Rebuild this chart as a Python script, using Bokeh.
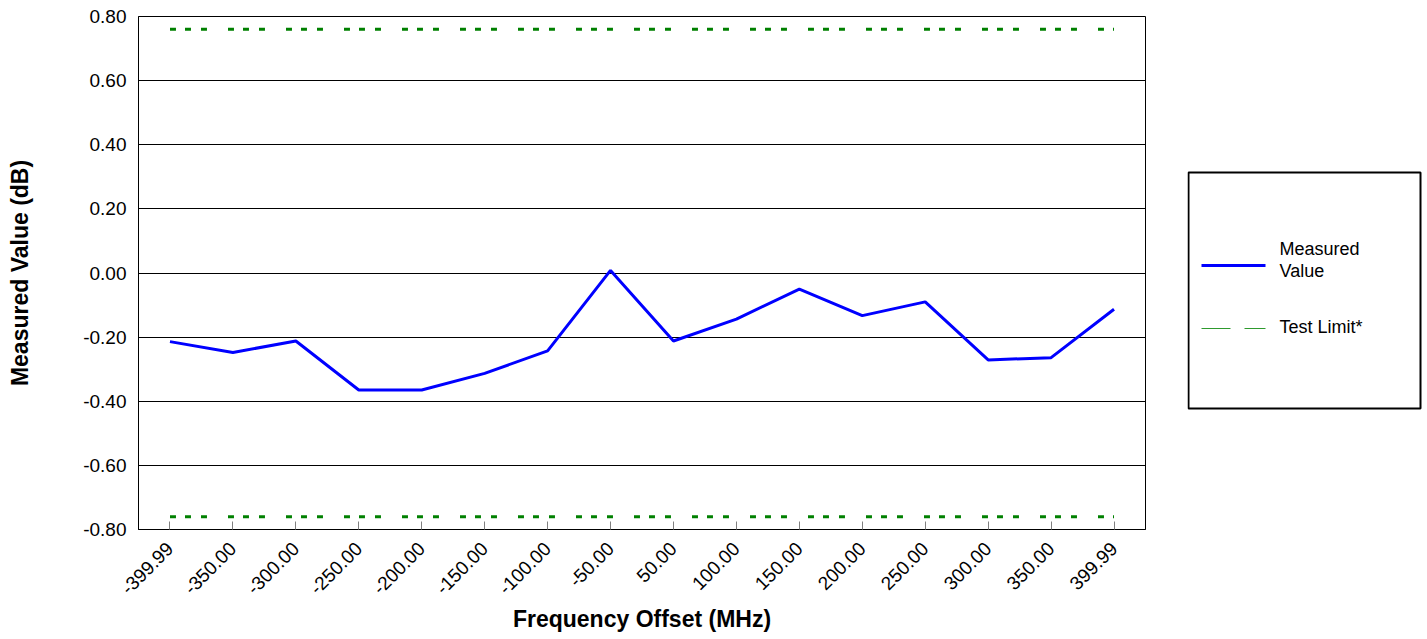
import math
from bokeh.plotting import figure
from bokeh.models import FactorRange, Range1d, FixedTicker, NumeralTickFormatter, ColumnDataSource
from bokeh.layouts import row
from bokeh.embed import file_html
from bokeh.resources import INLINE
from bokeh.core.properties import value

# ---------------- data ----------------
categories = ["-399.99", "-350.00", "-300.00", "-250.00", "-200.00", "-150.00",
              "-100.00", "-50.00", "50.00", "100.00", "150.00", "200.00",
              "250.00", "300.00", "350.00", "399.99"]
measured = [-0.214, -0.248, -0.212, -0.365, -0.365, -0.313,
            -0.243, 0.008, -0.212, -0.144, -0.050, -0.133,
            -0.090, -0.271, -0.264, -0.113]
upper_limit = [0.76] * len(categories)
lower_limit = [-0.76] * len(categories)
y_ticks = [-0.8, -0.6, -0.4, -0.2, 0.0, 0.2, 0.4, 0.6, 0.8]
legend_labels = ["Measured Value", "Test Limit*"]
x_title = "Frequency Offset (MHz)"
y_title = "Measured Value (dB)"

FONT = "Liberation Sans"
BLUE = "#0000FF"
GREEN = "#008000"

FRAME_H = 513
TOP = 16
BOTTOM = 100

src = ColumnDataSource(dict(x=categories, m=measured, up=upper_limit, lo=lower_limit))

p = figure(x_range=FactorRange(factors=categories), y_range=Range1d(-0.8, 0.8),
           frame_width=1007, frame_height=FRAME_H,
           min_border_left=138, min_border_top=TOP, min_border_right=42, min_border_bottom=BOTTOM,
           output_backend="svg", toolbar_location=None,
           background_fill_color="white", border_fill_color="white")

p.line("x", "up", source=src, line_color=GREEN, line_width=3, line_dash="6 9 6 10 6 21")
p.line("x", "lo", source=src, line_color=GREEN, line_width=3, line_dash="6 9 6 10 6 21")
p.line("x", "m", source=src, line_color=BLUE, line_width=3)

p.outline_line_color = "black"
p.outline_line_width = 1
p.xgrid.visible = False
p.ygrid.grid_line_color = "black"
p.ygrid.grid_line_width = 1
p.ygrid.ticker = FixedTicker(ticks=y_ticks)

p.yaxis.ticker = FixedTicker(ticks=y_ticks)
p.yaxis.formatter = NumeralTickFormatter(format="0.00")
p.yaxis.major_tick_in = 0
p.yaxis.major_tick_out = 0
p.yaxis.minor_tick_line_color = None
p.yaxis.major_label_standoff = 12
p.yaxis.axis_label = y_title
p.yaxis.axis_label_standoff = 47

p.xaxis.major_label_orientation = math.pi / 4
p.xaxis.major_tick_in = 8
p.xaxis.major_tick_out = 0
p.xaxis.major_tick_line_color = "#808080"
p.xaxis.major_label_standoff = 16
p.xaxis.axis_label = x_title
p.xaxis.axis_label_standoff = 3

for ax in p.axis:
    ax.axis_line_color = "black"
    ax.major_label_text_font = FONT
    ax.major_label_text_font_size = "19px"
    ax.major_label_text_color = "black"
    ax.axis_label_text_font = FONT
    ax.axis_label_text_font_size = "23px"
    ax.axis_label_text_font_style = "bold"
    ax.axis_label_text_color = "black"

# ---------------- legend panel (same frame height as the chart) ----------------
lg = figure(x_range=Range1d(0, 236), y_range=Range1d(0, FRAME_H),
            frame_width=236, frame_height=FRAME_H,
            min_border_left=0, min_border_right=0, min_border_top=TOP, min_border_bottom=BOTTOM,
            x_axis_location=None, y_axis_location=None,
            output_backend="svg", toolbar_location=None,
            background_fill_color="white", border_fill_color="white")
lg.outline_line_color = None
lg.grid.visible = False

lg.quad(left=[1], right=[233], bottom=[121], top=[357],
        fill_color=None, line_color="black", line_width=2)
lg.line([14, 78], [264, 264], line_color=BLUE, line_width=3)
lg.line([14, 78], [201, 201], line_color="#2E9A2E", line_width=1, line_dash="29 14")
words = legend_labels[0].split(" ")
lg.text(x=[92, 92, 92], y=[281, 259, 203], text=[words[0], words[1], legend_labels[1]],
        text_baseline="middle", text_align="left",
        text_font=value(FONT), text_font_size="18px", text_color="black")

layout = row(p, lg)
open("out.html", "w").write(file_html(layout, INLINE))
